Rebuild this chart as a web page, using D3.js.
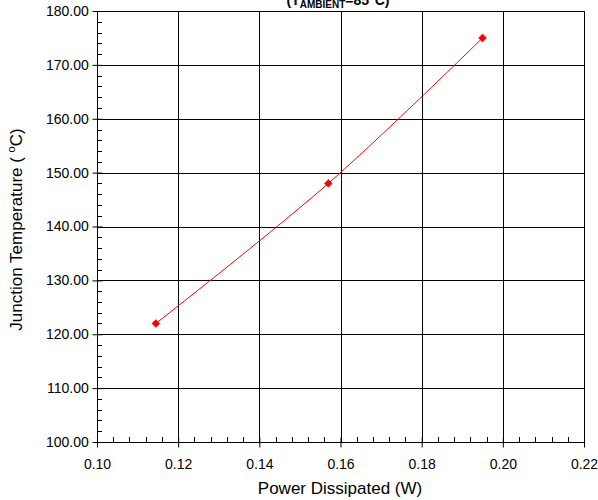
<!DOCTYPE html>
<html><head><meta charset="utf-8">
<script src="https://cdn.jsdelivr.net/npm/d3@7"></script>
<style>body{margin:0;background:#fff;}svg{display:block;font-family:"Liberation Sans",Arial,sans-serif;}</style>
</head><body>
<script>
const powerW = [0.1145, 0.157, 0.195];
const junctionTempC = [122, 148, 175];
const xTicks = [0.10, 0.12, 0.14, 0.16, 0.18, 0.20, 0.22];
const yTicks = [100, 110, 120, 130, 140, 150, 160, 170, 180];

const W = 598, H = 500;
const m = {left: 97, right: 14, top: 11, bottom: 58};
const svg = d3.select("body").append("svg").attr("width", W).attr("height", H);
const x = d3.scaleLinear().domain([0.10, 0.22]).range([m.left, W - m.right]);
const y = d3.scaleLinear().domain([100, 180]).range([H - m.bottom, m.top]);

// grid
const g = svg.append("g");
g.selectAll(".vx").data(xTicks).join("line")
  .attr("x1", d => Math.round(x(d)) + 0.5).attr("x2", d => Math.round(x(d)) + 0.5)
  .attr("y1", y(180)).attr("y2", y(100)).attr("stroke", "#000").attr("stroke-width", 1);
g.selectAll(".hy").data(yTicks).join("line")
  .attr("y1", d => Math.round(y(d)) + 0.5).attr("y2", d => Math.round(y(d)) + 0.5)
  .attr("x1", x(0.10)).attr("x2", x(0.22)).attr("stroke", "#000").attr("stroke-width", 1);

// axes
const xMinor = d3.range(0, 31).map(i => 0.10 + i * 0.004).filter(v => !xTicks.some(t => Math.abs(t - v) < 1e-6));
const yMinor = d3.range(100, 180.01, 2).filter(v => v % 10 !== 0);
const xAxis = svg.append("g").attr("transform", `translate(0,${Math.round(y(100)) + 0.5})`)
  .call(d3.axisBottom(x).tickValues(xTicks).tickFormat(d3.format(".2f")).tickSize(5).tickSizeOuter(0));
xAxis.select(".domain").remove();
xAxis.selectAll(".tick line").attr("y1", -5).attr("y2", 5);
xAxis.selectAll("text").attr("font-size", 14).attr("dy", "1.3em").attr("font-family", '"Liberation Sans",Arial,sans-serif');
svg.append("g").selectAll("line").data(xMinor).join("line")
  .attr("x1", d => Math.round(x(d)) + 0.5).attr("x2", d => Math.round(x(d)) + 0.5)
  .attr("y1", y(100)).attr("y2", y(100) - 5).attr("stroke", "#000");

const yAxis = svg.append("g").attr("transform", `translate(${Math.round(x(0.10)) + 0.5},0)`)
  .call(d3.axisLeft(y).tickValues(yTicks).tickFormat(d3.format(".2f")).tickSize(5).tickSizeOuter(0));
yAxis.select(".domain").remove();
yAxis.selectAll(".tick line").attr("x1", -5).attr("x2", 5);
yAxis.selectAll("text").attr("font-size", 14).attr("dx", "-0.05em").attr("font-family", '"Liberation Sans",Arial,sans-serif');
svg.append("g").selectAll("line").data(yMinor).join("line")
  .attr("y1", d => Math.round(y(d)) + 0.5).attr("y2", d => Math.round(y(d)) + 0.5)
  .attr("x1", x(0.10)).attr("x2", x(0.10) + 5).attr("stroke", "#000");
svg.selectAll(".tick text").attr("fill", "#000");

// data
const pts = powerW.map((p, i) => [p, junctionTempC[i]]);
svg.append("path").datum(pts)
  .attr("d", d3.line().x(d => x(d[0])).y(d => y(d[1])).curve(d3.curveCatmullRom.alpha(0.5)))
  .attr("fill", "none").attr("stroke", "#ff0000").attr("stroke-width", 1);
svg.selectAll(".mk").data(pts).join("path")
  .attr("transform", d => `translate(${x(d[0])},${y(d[1])})`)
  .attr("d", d3.symbol(d3.symbolDiamond2, 40))
  .attr("fill", "#ff0000").attr("stroke", "#ff0000").attr("stroke-width", 0.5);

// title (partially cut at top edge, as in the reference)
const t = svg.append("text").attr("x", 338).attr("y", 5).attr("text-anchor", "middle")
  .attr("font-size", 14).attr("font-weight", "bold");
t.append("tspan").text("(T");
t.append("tspan").attr("font-size", 10).attr("dy", 3).text("AMBIENT");
t.append("tspan").attr("dy", -3).text("=85°C)");

// axis labels
svg.append("text").attr("x", 340).attr("y", 494).attr("text-anchor", "middle")
  .attr("font-size", 17).text("Power Dissipated (W)");
const yl = svg.append("text").attr("transform", `translate(22,${(y(100) + y(180)) / 2 + 3}) rotate(-90)`)
  .attr("text-anchor", "middle").attr("font-size", 17);
yl.append("tspan").text("Junction Temperature ( ");
yl.append("tspan").attr("font-size", 11).attr("dy", -7).text("o");
yl.append("tspan").attr("dy", 7).text("C)");
</script>
</body></html>
